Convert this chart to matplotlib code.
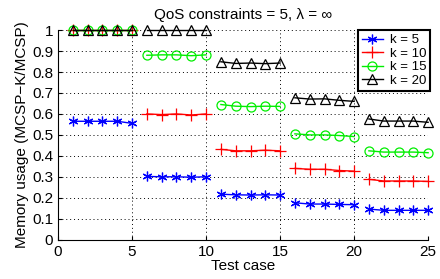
import numpy as np
import matplotlib
matplotlib.use('Agg')
import matplotlib.pyplot as plt

plt.rcParams['font.family'] = ['Liberation Sans', 'DejaVu Sans']

# test cases, 5 groups of 5
test_case = np.arange(1, 26)

k5 = [0.565, 0.565, 0.565, 0.565, 0.555,
      0.302, 0.300, 0.300, 0.298, 0.300,
      0.217, 0.214, 0.213, 0.214, 0.213,
      0.176, 0.170, 0.170, 0.168, 0.167,
      0.146, 0.140, 0.140, 0.140, 0.140]
k10 = [1.0, 1.0, 1.0, 1.0, 1.0,
       0.600, 0.597, 0.600, 0.595, 0.600,
       0.431, 0.424, 0.424, 0.427, 0.424,
       0.340, 0.336, 0.336, 0.330, 0.327,
       0.288, 0.280, 0.280, 0.280, 0.278]
k15 = [1.0, 1.0, 1.0, 1.0, 1.0,
       0.880, 0.882, 0.882, 0.878, 0.882,
       0.645, 0.637, 0.635, 0.637, 0.636,
       0.505, 0.500, 0.500, 0.497, 0.492,
       0.424, 0.418, 0.418, 0.418, 0.415]
k20 = [1.0, 1.0, 1.0, 1.0, 1.0,
       1.0, 1.0, 1.0, 1.0, 1.0,
       0.849, 0.841, 0.843, 0.840, 0.843,
       0.677, 0.671, 0.672, 0.665, 0.660,
       0.576, 0.566, 0.566, 0.566, 0.560]

series = [
    (k5, 'b', (6, 2, 0), 'k = 5', dict(markersize=7, markeredgewidth=0.9)),
    (k10, 'r', '+', 'k = 10', dict(markersize=8, markeredgewidth=0.9)),
    (k15, '#00ee00', 'o', 'k = 15', dict(markersize=6.5, markerfacecolor='none', markeredgewidth=0.9)),
    (k20, 'k', '^', 'k = 20', dict(markersize=7, markerfacecolor='none', markeredgewidth=0.9)),
]

fig = plt.figure(figsize=(4.4, 2.79), dpi=100)
ax = fig.add_axes([0.132, 0.141, 0.841, 0.751])

for vals, c, m, lab, kw in series:
    vals = np.array(vals)
    for g in range(5):
        sl = slice(g * 5, g * 5 + 5)
        ax.plot(test_case[sl], vals[sl], color=c, marker=m, linewidth=1.0,
                label=lab if g == 0 else None, clip_on=False, zorder=3, **kw)

ax.set_xlim(0, 25)
ax.set_ylim(0, 1)
ax.set_xticks([0, 5, 10, 15, 20, 25])
ax.set_yticks(np.round(np.arange(0, 1.01, 0.1), 1))
ax.set_yticklabels(['0', '0.1', '0.2', '0.3', '0.4', '0.5', '0.6', '0.7', '0.8', '0.9', '1'])
ax.grid(True, linestyle=(0, (1, 3)), color='k', linewidth=0.7)
ax.spines['top'].set_visible(False)
ax.spines['right'].set_visible(False)
ax.tick_params(labelsize=11, length=3, direction='in')
ax.set_xlabel('Test case', fontsize=11, labelpad=0)
ax.set_ylabel('Memory usage (MCSP\u2212K/MCSP)', fontsize=11, labelpad=2)
ax.set_title('QoS constraints = 5, \u03bb = \u221e', fontsize=11, pad=8)

leg = ax.legend(loc='upper right', fontsize=9.5, frameon=True, fancybox=False,
                borderpad=0.3, labelspacing=0.1, handlelength=1.6,
                handletextpad=0.5, borderaxespad=0,
                bbox_to_anchor=(1.005, 1.0))
leg.get_frame().set_edgecolor('k')
leg.get_frame().set_linewidth(1.5)
leg.get_frame().set_alpha(1)
leg.set_zorder(5)

fig.savefig('out.png', dpi=100)
